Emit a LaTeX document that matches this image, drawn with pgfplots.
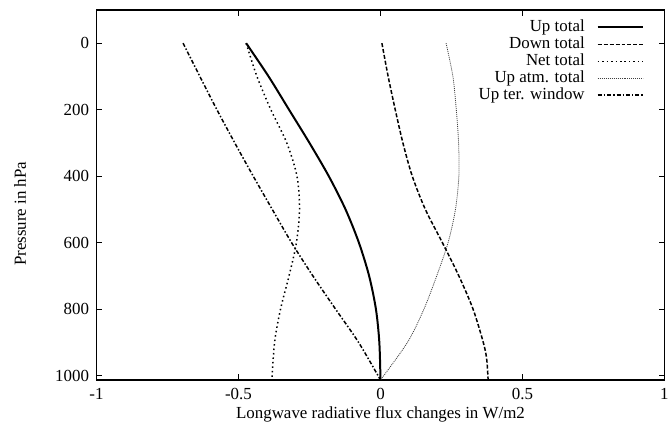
\documentclass[border=0pt]{standalone}
\usepackage{fontspec}
\setmainfont{Liberation Serif}
\usepackage{pgfplots}
\pgfplotsset{compat=1.18}

\begin{document}
\begin{tikzpicture}[font=\fontsize{17bp}{19bp}\selectfont]
\begin{axis}[
  name=ax,
  width=571bp, height=372bp, scale only axis,
  xmin=-1, xmax=1, ymin=-100, ymax=1013,
  y dir=reverse,
  xtick={-1,-0.5,0,0.5,1},
  ytick={0,200,400,600,800,1000},
  /pgf/number format/assume math mode=true,
  /pgf/number format/1000 sep={},
  tick align=inside,
  major tick length=6bp,
  every tick/.style={black, line width=0.9bp},
  axis line style={line width=1.2bp},
  xticklabel shift=5bp,
  yticklabel shift=4bp,
  xlabel={Longwave radiative flux changes in W/m2},
  ylabel={Pressure in hPa},
  ylabel style={at={(axis description cs:-0.118,0.449)}, anchor=south, rotate=0},
  legend plot pos=right,
  legend cell align=right,
  legend style={draw=none, fill=none, inner sep=0pt,
    at={(axis description cs:0.965,0.976)}, anchor=north east,
    column sep=11bp, row sep=0pt,
    nodes={inner sep=1bp, text height=11.5bp, text depth=3.5bp}},
  legend image code/.code={\draw[#1] (0bp,0bp) -- (46bp,0bp);},
]
% Up total
\addplot[black, line width=2bp, smooth] coordinates {
  (-0.473,0) (-0.394,100) (-0.322,200) (-0.250,300) (-0.182,400) (-0.123,500)
  (-0.076,600) (-0.040,700) (-0.016,800) (-0.004,900) (0,1013)};
\addlegendentry{Up total}
% Down total
\addplot[black, line width=1.5bp, dash pattern=on 4bp off 2bp, smooth] coordinates {
  (0.005,0) (0.027,100) (0.052,200) (0.079,300) (0.112,400) (0.158,500)
  (0.218,600) (0.276,700) (0.326,800) (0.362,900) (0.374,950) (0.379,1013)};
\addlegendentry{Down total}
% Net total
\addplot[black, line width=1.5bp, dash pattern=on 1.5bp off 3bp, smooth] coordinates {
  (-0.473,0) (-0.435,100) (-0.386,200) (-0.330,300) (-0.294,400) (-0.285,500)
  (-0.296,600) (-0.322,700) (-0.352,800) (-0.373,900) (-0.382,1013)};
\addlegendentry{Net total}
% Up atm. total
\addplot[black!75, line width=0.8bp, dash pattern=on 1bp off 1bp, smooth] coordinates {
  (0.231,0) (0.255,100) (0.267,200) (0.275,300) (0.276,400) (0.264,500)
  (0.238,600) (0.198,700) (0.153,800) (0.095,900) (0,1013)};
\addlegendentry{Up atm. total}
% Up ter. window
\addplot[black, line width=1.5bp, dash pattern=on 4bp off 2bp on 1.5bp off 2bp, smooth] coordinates {
  (-0.695,0) (-0.636,100) (-0.576,200) (-0.513,300) (-0.448,400) (-0.381,500)
  (-0.313,600) (-0.238,700) (-0.158,800) (-0.077,900) (0,1013)};
\addlegendentry{Up ter. window}
\end{axis}
\path (ax.south west) ++(-97bp,-52bp) rectangle ++(672bp,434bp);
\end{tikzpicture}
\end{document}
